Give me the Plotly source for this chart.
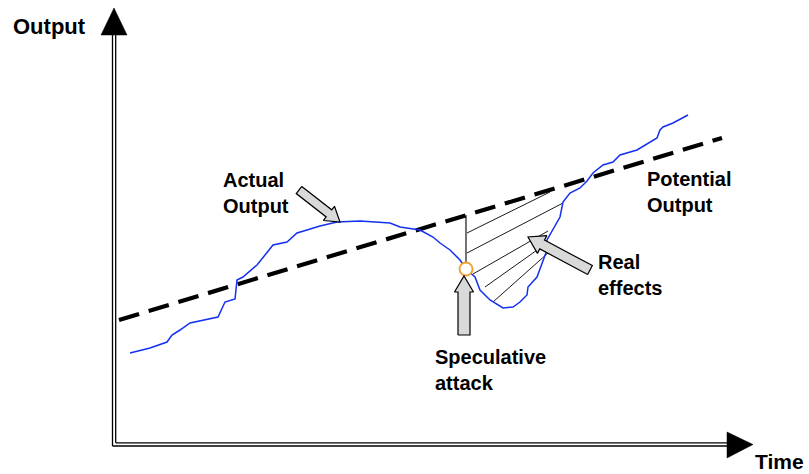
import math
import plotly.graph_objects as go

# ---------------- data (time, output) ----------------
actual_time = [130, 150, 167, 172, 180, 190, 218, 225, 235, 237, 243, 257, 265, 273, 287, 297,
               307, 320, 337, 360, 390, 400, 420, 433, 440, 450, 460, 466, 475, 480, 490, 503,
               513, 520, 527, 528, 537, 543, 547, 547, 553, 560, 563, 570, 580, 587, 593, 603,
               613, 620, 637, 650, 657, 660, 663, 673, 683, 688]
actual_output = [121, 126, 132, 139, 144, 151, 157, 172, 175, 194, 197, 209, 219, 229, 232, 241,
                 244, 248, 252, 253, 251, 247, 244, 237, 231, 224, 214, 205, 197, 184, 174, 166,
                 167, 172, 179, 187, 197, 212, 224, 234, 244, 257, 272, 281, 286, 293, 301, 309,
                 312, 319, 324, 332, 336, 344, 347, 351, 356, 359]

potential_time = [119, 722]
potential_output = [154, 336]

attack_time = 466
attack_output = 205

# hatch lines of the "real effects" area: (t0, y0, t1, y1)
hatch_t0 = [467, 467, 473, 485, 493]
hatch_y0 = [241, 221, 200, 187, 172]
hatch_t1 = [550, 563, 548, 547, 548]
hatch_y1 = [282, 271, 243, 231, 221]

# label arrows: tail -> tip
arrow_tail = [(299, 284), (590, 204), (464, 139)]
arrow_tip = [(340, 252), (528, 237), (464, 198)]
arrow_shaft = [9, 10, 12]
arrow_head = [18, 20, 19]
arrow_headlen = [14, 16, 16]

labels = ["Actual<br>Output", "Potential<br>Output", "Real<br>effects", "Speculative<br>attack"]
label_t = [221, 645, 596, 433]
label_y = [281, 282, 199, 104]

W, H = 809, 474
fig = go.Figure()

def add_line(xs, ys, color="black", width=1.0, dash=None):
    fig.add_trace(go.Scatter(x=xs, y=ys, mode="lines",
                             line=dict(color=color, width=width, dash=dash),
                             hoverinfo="skip", showlegend=False))

def add_poly(xs, ys, fill, line_color="black", lw=1.0):
    fig.add_trace(go.Scatter(x=xs + [xs[0]], y=ys + [ys[0]], mode="lines", fill="toself",
                             fillcolor=fill, line=dict(color=line_color, width=lw),
                             hoverinfo="skip", showlegend=False))

# axes (double lines with arrowheads)
for off in (0, 3.2):
    add_line([112.5 + off, 112.5 + off], [28 + off, 440], width=1.3)
    add_line([112.5 + off, 728], [28 + off, 28 + off], width=1.3)
add_poly([101, 127, 114], [439, 439, 466], "black", lw=0.5)
add_poly([727, 727, 753], [42, 16, 29.5], "black", lw=0.5)

# hatch lines
for t0, y0, t1, y1 in zip(hatch_t0, hatch_y0, hatch_t1, hatch_y1):
    add_line([t0, t1], [y0, y1], width=0.9)

# vertical marker line from potential output down to the attack point
pot_at_attack = potential_output[0] + (attack_time - potential_time[0]) * \
    (potential_output[1] - potential_output[0]) / (potential_time[1] - potential_time[0])
add_line([attack_time, attack_time], [attack_output + 6, pot_at_attack], width=1.1)

# potential output (dashed)
add_line(potential_time, potential_output, width=4.2, dash="21px,10px")

# actual output
add_line(actual_time, actual_output, color="#1430f0", width=1.5)

# attack marker
fig.add_trace(go.Scatter(x=[attack_time], y=[attack_output], mode="markers",
                         marker=dict(symbol="circle", size=13, color="white",
                                     line=dict(color="#f0a030", width=1.8)),
                         hoverinfo="skip", showlegend=False))

# block arrows
for (tx0, ty0), (tx1, ty1), sw, hw, hl in zip(arrow_tail, arrow_tip, arrow_shaft, arrow_head, arrow_headlen):
    dx, dy = tx1 - tx0, ty1 - ty0
    L = math.hypot(dx, dy)
    ux, uy = dx / L, dy / L
    nx, ny = -uy, ux
    bx, by = tx1 - ux * hl, ty1 - uy * hl
    xs = [tx0 + nx * sw / 2, bx + nx * sw / 2, bx + nx * hw / 2, tx1,
          bx - nx * hw / 2, bx - nx * sw / 2, tx0 - nx * sw / 2]
    ys = [ty0 + ny * sw / 2, by + ny * sw / 2, by + ny * hw / 2, ty1,
          by - ny * hw / 2, by - ny * sw / 2, ty0 - ny * sw / 2]
    add_poly(xs, ys, "#d9d9d9", lw=1.2)

font = dict(family="Liberation Sans, Arial, sans-serif", size=20, color="black")
for txt, t, y in zip(labels, label_t, label_y):
    fig.add_annotation(x=t, y=y, text="<b>" + txt + "</b>", showarrow=False,
                       xanchor="left", yanchor="middle", align="left", font=font)

fig.add_annotation(x=11, y=448, text="<b>Output</b>", showarrow=False,
                   xanchor="left", yanchor="middle",
                   font=dict(family="Liberation Sans, Arial, sans-serif", size=22, color="black"))
fig.add_annotation(x=753, y=13, text="<b>Time</b>", showarrow=False,
                   xanchor="left", yanchor="middle",
                   font=dict(family="Liberation Sans, Arial, sans-serif", size=21, color="black"))

fig.update_layout(width=W, height=H, margin=dict(l=0, r=0, t=0, b=0),
                  paper_bgcolor="white", plot_bgcolor="white", showlegend=False,
                  xaxis=dict(range=[0, W], visible=False, fixedrange=True),
                  yaxis=dict(range=[0, H], visible=False, fixedrange=True))

fig.write_html("out.html", config={"displayModeBar": False},
               post_script="document.body.style.margin='0';document.body.style.overflow='hidden';")
